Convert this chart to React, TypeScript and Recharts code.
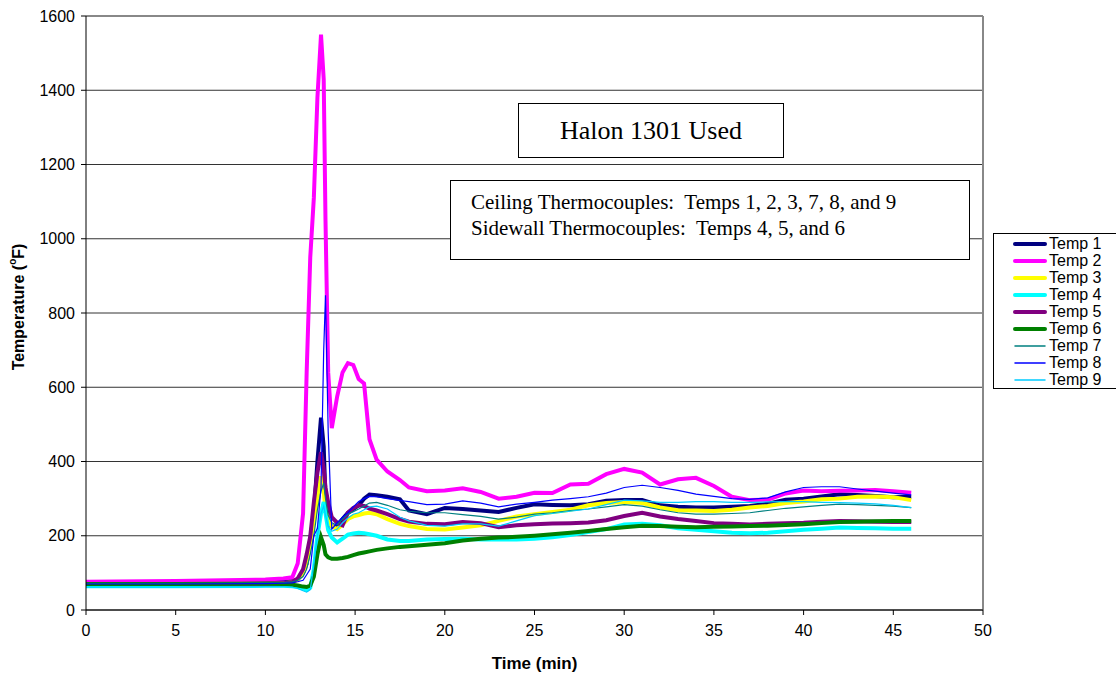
import React from 'react';
import { LineChart, Line, XAxis, YAxis, CartesianGrid, Legend, ReferenceLine, Label } from 'recharts';

// time in minutes, shared by all thermocouples
const times = [
  0, 5, 10, 11, 11.5, 11.8, 12.1, 12.3, 12.5, 12.7,
  12.9, 13.1, 13.25, 13.35, 13.5, 13.7, 14, 14.3, 14.6, 14.9,
  15.2, 15.5, 15.8, 16.2, 16.8, 17.5, 18, 19, 20, 21,
  22, 23, 24, 25, 26, 27, 28, 29, 30, 31,
  32, 33, 34, 35, 36, 37, 38, 39, 40, 41,
  42, 43, 44, 45, 46,
];

const temp1 = [
  74, 74, 75, 76, 78, 82, 100, 125, 190, 260,
  400, 518, 440, 300, 235, 225, 225, 245, 262, 272,
  282, 300, 311, 309, 305, 298, 268, 258, 275, 272,
  268, 264, 275, 285, 283, 282, 285, 294, 296, 296,
  282, 278, 276, 276, 278, 280, 286, 297, 300, 306,
  312, 310, 307, 304, 305,
];
const temp2 = [
  76, 78, 82, 85, 88, 125, 260, 640, 950, 1110,
  1380, 1550, 1430, 1050, 640, 490, 575, 640, 665, 660,
  622, 610, 460, 405, 373, 350, 330, 320, 322, 328,
  318, 300, 305, 316, 315, 338, 340, 366, 380, 370,
  338, 352, 356, 334, 305, 296, 297, 314, 322, 320,
  321, 322, 323, 320, 316,
];
const temp3 = [
  70, 70, 71, 72, 75, 82, 100, 130, 180, 240,
  300, 360, 320, 270, 240, 225, 218, 230, 245, 252,
  256, 260, 262, 258, 245, 232, 226, 218, 217, 222,
  228, 240, 252, 258, 264, 270, 282, 288, 291, 288,
  276, 269, 268, 267, 270, 276, 280, 288, 292, 298,
  300, 305, 306, 304, 296,
];
const temp4 = [
  64, 64, 65, 65, 64, 62, 58, 54, 60, 110,
  200, 260, 291, 260, 215, 195, 182, 192, 203, 206,
  208, 207, 204, 200, 190, 186, 186, 190, 191, 192,
  190, 190, 190, 192, 196, 202, 210, 218, 230, 232,
  228, 220, 216, 212, 208, 207, 208, 212, 216, 219,
  222, 221, 220, 219, 219,
];
const temp5 = [
  70, 70, 71, 72, 75, 85, 110, 150, 198, 290,
  370, 425, 380, 330, 290, 250, 235, 228, 262, 275,
  282, 280, 273, 268, 258, 245, 238, 232, 231, 237,
  234, 223, 228, 231, 233, 234, 236, 242, 253, 262,
  252, 245, 240, 234, 232, 230, 232, 234, 235, 238,
  240, 239, 238, 237, 237,
];
const temp6 = [
  70, 70, 71, 70, 68, 66, 63, 62, 66, 90,
  150, 196, 175, 150, 142, 138, 138, 140, 143, 148,
  152, 155, 158, 162, 166, 170, 172, 176, 180, 187,
  192, 195, 197, 200, 204, 208, 213, 218, 223, 227,
  226, 224, 223, 224, 225, 226, 227, 229, 231, 234,
  237, 238, 239, 240, 240,
];
const temp7 = [
  72, 72, 73, 74, 76, 80, 90, 110, 150, 200,
  270, 320, 342, 300, 255, 235, 229, 245, 258, 265,
  272, 280, 288, 290, 282, 270, 266, 262, 262, 257,
  252, 245, 250, 258, 262, 268, 272, 278, 284, 280,
  270, 262, 258, 258, 260, 262, 268, 274, 278, 282,
  285, 284, 282, 280, 276,
];
const temp8 = [
  70, 70, 71, 72, 73, 76, 80, 95, 110, 200,
  220, 330, 700, 848, 480, 218, 235, 250, 262, 278,
  292, 300, 306, 305, 300, 295, 292, 284, 285, 294,
  288, 278, 285, 290, 296, 300, 305, 315, 330, 336,
  330, 322, 312, 306, 300, 298, 302, 318, 330, 332,
  332, 326, 320, 315, 310,
];
const temp9 = [
  62, 62, 63, 63, 62, 58, 52, 48, 55, 120,
  200, 260, 280, 255, 225, 212, 218, 235, 248, 258,
  262, 270, 278, 280, 272, 250, 240, 228, 226, 232,
  232, 226, 240, 254, 260, 266, 272, 284, 296, 294,
  290, 290, 292, 292, 290, 290, 291, 292, 292, 290,
  289, 288, 286, 282, 276,
];

const seriesNames = ['Temp 1', 'Temp 2', 'Temp 3', 'Temp 4', 'Temp 5', 'Temp 6', 'Temp 7', 'Temp 8', 'Temp 9'];
const seriesValues = [temp1, temp2, temp3, temp4, temp5, temp6, temp7, temp8, temp9];
const seriesColors = ['#000080', '#ff00ff', '#ffff00', '#00ffff', '#800080', '#008000', '#008080', '#0000ff', '#00ccff'];
const seriesWidths = [4, 4, 4, 4, 4, 4, 1.2, 1.2, 1.2];

const xTicks = [0, 5, 10, 15, 20, 25, 30, 35, 40, 45, 50];
const yTicks = [0, 200, 400, 600, 800, 1000, 1200, 1400, 1600];

const data = times.map((t, i) => {
  const row: Record<string, number> = { time: t };
  seriesNames.forEach((name, k) => {
    row[name] = seriesValues[k][i];
  });
  return row;
});

const sans = '"Liberation Sans", Arial, sans-serif';
const serif = '"Liberation Serif", "Times New Roman", serif';

function YTitle(props: any) {
  const vb = props.viewBox || {};
  const cx = 18;
  const cy = vb.y + vb.height / 2 - 6;
  return (
    <text
      x={cx}
      y={cy}
      transform={`rotate(-90, ${cx}, ${cy})`}
      textAnchor="middle"
      dominantBaseline="central"
      style={{ fontFamily: sans, fontSize: 16, fontWeight: 'bold', fill: '#000' }}
    >
      Temperature (<tspan dy={-6} fontSize={10}>o</tspan>
      <tspan dy={6}>F)</tspan>
    </text>
  );
}

function LegendBox() {
  return (
    <div
      style={{
        border: '1px solid #000',
        background: '#fff',
        padding: '1px 0 0 19px',
        width: 140,
        boxSizing: 'border-box',
      }}
    >
      {seriesNames.map((name, k) => (
        <div key={name} style={{ display: 'flex', alignItems: 'center', height: 17 }}>
          <svg width={34} height={6}>
            <line x1={2} x2={32} y1={3} y2={3} stroke={seriesColors[k]} strokeWidth={seriesWidths[k] > 2 ? 4 : 1.5} strokeLinecap="round" />
          </svg>
          <span style={{ marginLeft: 2, fontFamily: sans, fontSize: 16, lineHeight: '17px', color: '#000' }}>{name}</span>
        </div>
      ))}
    </div>
  );
}

export default function App() {
  return (
    <div style={{ position: 'absolute', left: 0, top: 0, width: 1116, height: 677, overflow: 'hidden', background: '#fff' }}>
      <LineChart width={1116} height={677} data={data} margin={{ top: 16, right: 133, bottom: 0, left: 0 }}>
        <CartesianGrid vertical={false} stroke="#333" strokeWidth={1} />
        <XAxis
          dataKey="time"
          type="number"
          domain={[0, 50]}
          ticks={xTicks}
          interval={0}
          stroke="#000"
          tickSize={5}
          tickMargin={10}
          tick={{ fill: '#000', fontSize: 16, fontFamily: sans }}
          height={67}
        >
          <Label
            value="Time (min)"
            position="insideBottom"
            offset={8}
            style={{ fontFamily: sans, fontSize: 17, fontWeight: 'bold', fill: '#000' }}
          />
        </XAxis>
        <YAxis
          type="number"
          domain={[0, 1600]}
          ticks={yTicks}
          interval={0}
          width={86}
          stroke="#000"
          tickSize={5}
          tickMargin={6}
          tick={{ fill: '#000', fontSize: 16, fontFamily: sans }}
        >
          <Label content={<YTitle />} />
        </YAxis>
        <ReferenceLine y={1600} stroke="#888" strokeWidth={2} />
        <ReferenceLine x={50} stroke="#888" strokeWidth={2} />
        {seriesNames.map((name, k) => (
          <Line
            key={name}
            type="linear"
            dataKey={name}
            stroke={seriesColors[k]}
            strokeWidth={seriesWidths[k]}
            dot={false}
            activeDot={false}
            isAnimationActive={false}
          />
        ))}
        <Legend
          layout="vertical"
          align="center"
          verticalAlign="middle"
          wrapperStyle={{ left: 993, top: 233, width: 140 }}
          content={<LegendBox />}
        />
      </LineChart>
      <div
        style={{
          position: 'absolute',
          left: 518,
          top: 103,
          width: 266,
          height: 55,
          border: '1.5px solid #000',
          boxSizing: 'border-box',
          background: '#fff',
          display: 'flex',
          alignItems: 'center',
          justifyContent: 'center',
          fontFamily: serif,
          fontSize: 26,
        }}
      >
        Halon 1301 Used
      </div>
      <div
        style={{
          position: 'absolute',
          left: 450,
          top: 180,
          width: 520,
          height: 80,
          border: '1.5px solid #000',
          boxSizing: 'border-box',
          background: '#fff',
          padding: '8px 0 0 20px',
          fontFamily: serif,
          fontSize: 21,
          lineHeight: '26px',
          whiteSpace: 'pre',
        }}
      >
        {'Ceiling Thermocouples:  Temps 1, 2, 3, 7, 8, and 9\nSidewall Thermocouples:  Temps 4, 5, and 6'}
      </div>
    </div>
  );
}
